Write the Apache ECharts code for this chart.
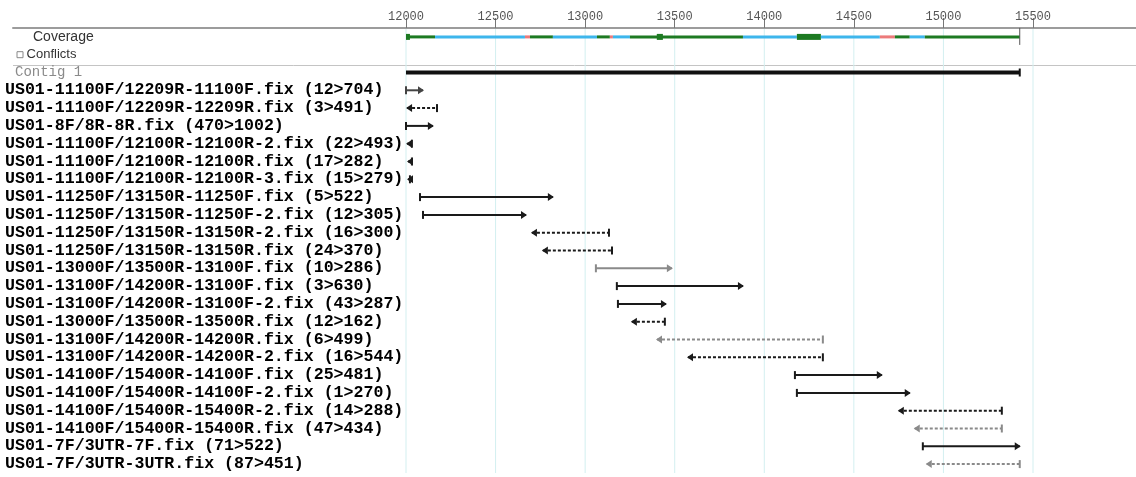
<!DOCTYPE html>
<html>
<head>
<meta charset="utf-8">
<script src="https://cdn.jsdelivr.net/npm/echarts@6/dist/echarts.min.js"></script>
<style>html,body{margin:0;padding:0;background:#fff;}#c{width:1136px;height:477px;}</style>
</head>
<body>
<div id="c"></div>
<script>
// ---- data ----
const tickValues = [12000, 12500, 13000, 13500, 14000, 14500, 15000, 15500];
const headerRows = ['Coverage', 'Conflicts', 'Contig 1'];
const contigStart = 12000;
const contigEnd = 15426;

const readNames = [
  'US01-11100F/12209R-11100F.fix (12>704)',
  'US01-11100F/12209R-12209R.fix (3>491)',
  'US01-8F/8R-8R.fix (470>1002)',
  'US01-11100F/12100R-12100R-2.fix (22>493)',
  'US01-11100F/12100R-12100R.fix (17>282)',
  'US01-11100F/12100R-12100R-3.fix (15>279)',
  'US01-11250F/13150R-11250F.fix (5>522)',
  'US01-11250F/13150R-11250F-2.fix (12>305)',
  'US01-11250F/13150R-13150R-2.fix (16>300)',
  'US01-11250F/13150R-13150R.fix (24>370)',
  'US01-13000F/13500R-13100F.fix (10>286)',
  'US01-13100F/14200R-13100F.fix (3>630)',
  'US01-13100F/14200R-13100F-2.fix (43>287)',
  'US01-13000F/13500R-13500R.fix (12>162)',
  'US01-13100F/14200R-14200R.fix (6>499)',
  'US01-13100F/14200R-14200R-2.fix (16>544)',
  'US01-14100F/15400R-14100F.fix (25>481)',
  'US01-14100F/15400R-14100F-2.fix (1>270)',
  'US01-14100F/15400R-15400R-2.fix (14>288)',
  'US01-14100F/15400R-15400R.fix (47>434)',
  'US01-7F/3UTR-7F.fix (71>522)',
  'US01-7F/3UTR-3UTR.fix (87>451)'
];
const readStart = [12000, 12006, 12000, 12006, 12011, 12011, 12078, 12095, 12703, 12764, 13060, 13177, 13183, 13261, 13401, 13574, 14171, 14182, 14751, 14840, 14885, 14907];
const readEnd   = [12095, 12173, 12150, 12033, 12033, 12022, 12820, 12670, 13133, 13150, 13484, 13881, 13451, 13445, 14327, 14327, 14656, 14812, 15326, 15326, 15426, 15426];
const readDir   = [1, -1, 1, -1, -1, -1, 1, 1, -1, -1, 1, 1, 1, -1, -1, -1, 1, 1, -1, -1, 1, -1];
const readShade = ['mid', 'dark', 'dark', 'dark', 'dark', 'dark', 'dark', 'dark', 'dark', 'dark', 'light', 'dark', 'dark', 'dark', 'light', 'dark', 'dark', 'dark', 'dark', 'light', 'dark', 'light'];

const covStart = [12000, 12162, 12664, 12692, 12820, 13066, 13138, 13155, 13250, 13881, 14182, 14316, 14645, 14729, 14812, 14896, 12000, 13400];
const covEnd   = [12162, 12664, 12692, 12820, 13066, 13138, 13155, 13250, 13881, 14182, 14316, 14645, 14729, 14812, 14896, 15426, 12022, 13434];
const covKind  = ['g', 'b', 'r', 'g', 'b', 'g', 'r', 'b', 'g', 'b', 'g', 'b', 'r', 'g', 'b', 'g', 'g', 'g'];
const covThick = [0, 0, 0, 0, 0, 0, 0, 0, 0, 0, 1, 0, 0, 0, 0, 0, 1, 1];

// ---- layout helpers ----
const rows = headerRows.concat(readNames);
const pxPerUnit = 627 / 3500;
const gridLeft = 13, gridWidth = 1123;
const xMin = 12000 - (406 - gridLeft) / pxPerUnit;
const xMax = xMin + gridWidth / pxPerUnit;

const covColors = { g: '#1d7a22', b: '#3db6ec', r: '#ec7a7a' };
const shadeColors = { dark: '#1a1a1a', mid: '#444', light: '#8a8a8a' };

const chart = echarts.init(document.getElementById('c'), null, { renderer: 'canvas' });

const covData = covStart.map((s, i) => [s, covEnd[i], 'Coverage', covKind[i], covThick[i]]);
const readData = readStart.map((s, i) => [s, readEnd[i], readNames[i], readDir[i], readShade[i]]);
const gridData = tickValues.map(v => [v, v, 'Coverage']);

chart.setOption({
  animation: false,
  backgroundColor: '#fff',
  grid: { left: gridLeft, right: 0, top: 28, bottom: 4 },
  xAxis: {
    type: 'value', position: 'top', min: xMin, max: xMax,
    axisLine: { show: true, lineStyle: { color: '#9c9c9c', width: 2 } },
    axisTick: { show: true, customValues: tickValues, length: 10, inside: false, lineStyle: { color: '#777', width: 1 } },
    axisLabel: { show: true, customValues: tickValues, margin: 5, color: '#555', fontFamily: 'Liberation Mono', fontSize: 12,
      formatter: function (v) { return String(v); } },
    splitLine: { show: false }
  },
  yAxis: {
    type: 'category', data: rows, inverse: true,
    axisLine: { show: false }, axisTick: { show: false }, splitLine: { show: false },
    axisLabel: {
      interval: 0, margin: 8, align: 'left',
      formatter: function (v) {
        if (v === 'Coverage') return '{cov|Coverage}';
        if (v === 'Conflicts') return '{sp|}{box|}{conf| Conflicts}';
        if (v === 'Contig 1') return '{contig|Contig 1}';
        return '{read|' + v + '}';
      },
      rich: {
        read: { fontFamily: 'Liberation Mono', fontWeight: 'bold', fontSize: 16.6, color: '#000' },
        cov: { fontFamily: 'Liberation Sans', fontSize: 14, color: '#333', padding: [0, 0, 0, 28] },
        sp: { width: 12, height: 7 },
        box: { width: 6, height: 6, borderColor: '#888', borderWidth: 1 },
        conf: { fontFamily: 'Liberation Sans', fontSize: 13, color: '#333' },
        contig: { fontFamily: 'Liberation Mono', fontSize: 14, color: '#8a8a8a', padding: [0, 0, 0, 10] }
      }
    }
  },
  graphic: [{
    type: 'line', z: 0, silent: true,
    shape: { x1: gridLeft, y1: 65.5, x2: 1136, y2: 65.5 },
    style: { stroke: '#c4c4c4', lineWidth: 1 }
  }],
  series: [
    {
      type: 'custom', name: 'gridlines', z: 1, silent: true,
      encode: { x: [0, 1], y: 2 },
      data: gridData,
      renderItem: function (params, api) {
        const a = api.coord([api.value(0), api.value(2)]);
        const cs = params.coordSys;
        return { type: 'line', shape: { x1: a[0], y1: cs.y + 1, x2: a[0], y2: cs.y + cs.height }, style: { stroke: '#d3eff0', lineWidth: 1 } };
      }
    },
    {
      type: 'custom', name: 'coverage', z: 2,
      encode: { x: [0, 1], y: 2 },
      data: covData,
      renderItem: function (params, api) {
        const a = api.coord([api.value(0), api.value(2)]);
        const b = api.coord([api.value(1), api.value(2)]);
        const h = api.value(4) ? 6 : 3;
        const kind = covKind[params.dataIndex];
        const children = [{
          type: 'rect',
          shape: { x: a[0], y: a[1] - h / 2, width: Math.max(b[0] - a[0], 1), height: h },
          style: { fill: covColors[kind] }
        }];
        if (api.value(1) === contigEnd) {
          children.push({ type: 'line', shape: { x1: b[0], y1: a[1] - 9, x2: b[0], y2: a[1] + 8 }, style: { stroke: '#555', lineWidth: 1 } });
        }
        return { type: 'group', children: children };
      }
    },
    {
      type: 'custom', name: 'contig', z: 2,
      encode: { x: [0, 1], y: 2 },
      data: [[contigStart, contigEnd, 'Contig 1']],
      renderItem: function (params, api) {
        const a = api.coord([api.value(0), api.value(2)]);
        const b = api.coord([api.value(1), api.value(2)]);
        return {
          type: 'group', children: [
            { type: 'line', shape: { x1: a[0], y1: a[1], x2: b[0], y2: b[1] }, style: { stroke: '#111', lineWidth: 4 } },
            { type: 'line', shape: { x1: b[0], y1: b[1] - 4, x2: b[0], y2: b[1] + 4 }, style: { stroke: '#111', lineWidth: 2 } }
          ]
        };
      }
    },
    {
      type: 'custom', name: 'reads', z: 3,
      encode: { x: [0, 1], y: 2 },
      data: readData,
      renderItem: function (params, api) {
        const i = params.dataIndex;
        const a = api.coord([api.value(0), api.value(2)]);
        const b = api.coord([api.value(1), api.value(2)]);
        const y = a[1];
        const dir = readDir[i];
        const col = shadeColors[readShade[i]];
        const x1 = a[0], x2 = b[0];
        const ch = [];
        ch.push({ type: 'line', shape: { x1: x1, y1: y, x2: x2, y2: y },
          style: { stroke: col, lineWidth: 2, lineDash: dir < 0 ? [3, 2] : null } });
        if (dir > 0) {
          ch.push({ type: 'line', shape: { x1: x1, y1: y - 4, x2: x1, y2: y + 4 }, style: { stroke: col, lineWidth: 2 } });
          ch.push({ type: 'polygon', shape: { points: [[x2 - 5, y - 4], [x2 + 1, y], [x2 - 5, y + 4]] }, style: { fill: col } });
        } else {
          ch.push({ type: 'line', shape: { x1: x2, y1: y - 4, x2: x2, y2: y + 4 }, style: { stroke: col, lineWidth: 2 } });
          ch.push({ type: 'polygon', shape: { points: [[x1 + 5, y - 4], [x1 - 1, y], [x1 + 5, y + 4]] }, style: { fill: col } });
        }
        return { type: 'group', children: ch };
      }
    }
  ]
});
</script>
</body>
</html>
